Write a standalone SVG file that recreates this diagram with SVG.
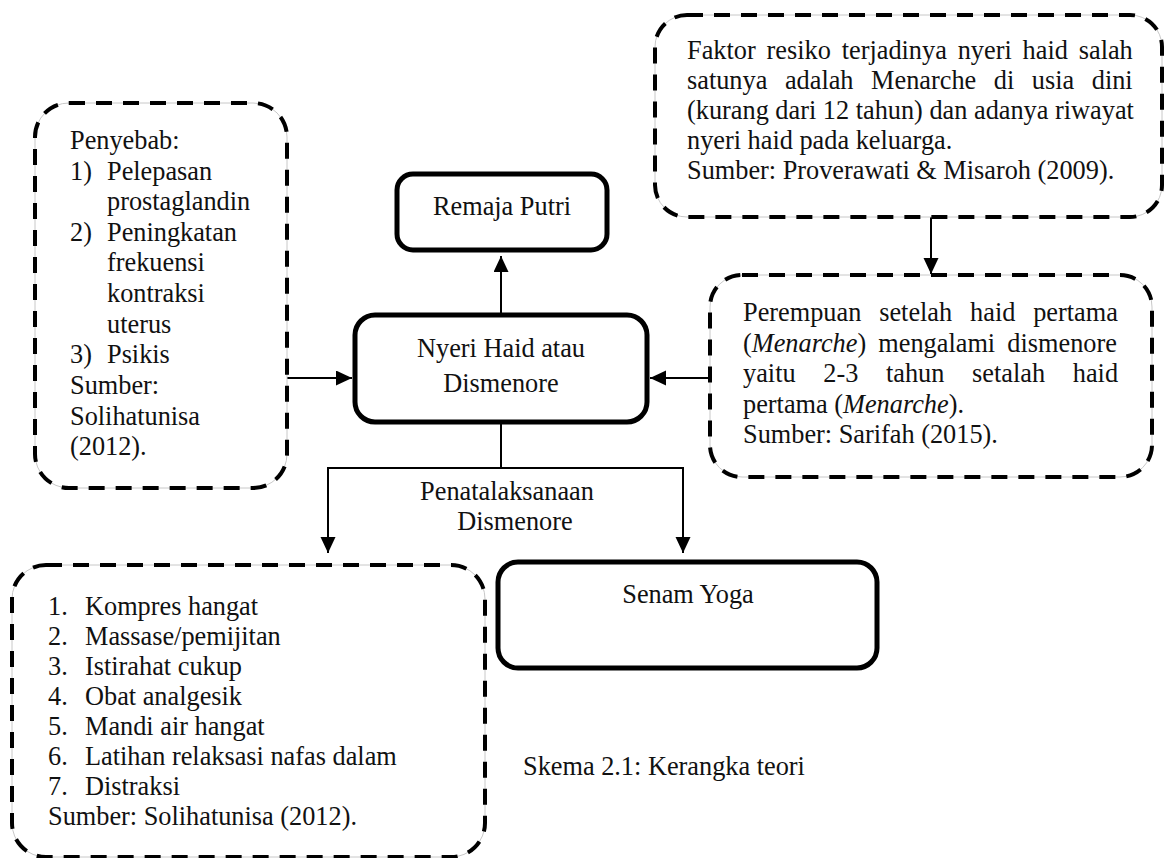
<svg xmlns="http://www.w3.org/2000/svg" width="1172" height="858" viewBox="0 0 1172 858">
  <style>
    text { font-family: "Liberation Serif", "Times New Roman", serif; font-size: 26.3px; fill: #111; }
    .mid { text-anchor: middle; }
    .dash { fill: none; stroke: #000; stroke-width: 4; stroke-dasharray: 16 11; }
    .ghost { fill: none; stroke: #c8c8c8; stroke-width: 1; }
    .solid { fill: #fff; stroke: #000; stroke-width: 5; }
    .conn { fill: none; stroke: #000; stroke-width: 2; }
    .it { font-style: italic; }
  </style>
  <defs>
    <marker id="arr" markerUnits="userSpaceOnUse" markerWidth="16" markerHeight="16" refX="16" refY="7.5" orient="auto">
      <path d="M0,0 L16,7.5 L0,15 Z" fill="#000"/>
    </marker>
  </defs>
  <rect width="1172" height="858" fill="#fff"/>

  <g id="connectors">
    <line class="conn" x1="501" y1="315" x2="501" y2="256" marker-end="url(#arr)"/>
    <line class="conn" x1="287" y1="378" x2="352" y2="378" marker-end="url(#arr)"/>
    <line class="conn" x1="710" y1="378" x2="650" y2="378" marker-end="url(#arr)"/>
    <line class="conn" x1="931" y1="217" x2="931" y2="274" marker-end="url(#arr)"/>
    <line class="conn" x1="501" y1="422" x2="501" y2="468"/>
    <line class="conn" x1="327" y1="468" x2="684" y2="468"/>
    <line class="conn" x1="328" y1="468" x2="328" y2="553" marker-end="url(#arr)"/>
    <line class="conn" x1="683" y1="468" x2="683" y2="553" marker-end="url(#arr)"/>
    <text class="mid" x="507" y="500">Penatalaksanaan</text>
    <text class="mid" x="515" y="530">Dismenore</text>
  </g>

  <g id="penyebab">
    <rect class="ghost" x="35" y="103" width="252" height="385" rx="34"/>
    <rect class="dash" x="35" y="103" width="252" height="385" rx="34"/>
    <text x="70" y="149">Penyebab:</text>
    <text x="70" y="180">1)</text><text x="107" y="180">Pelepasan</text>
    <text x="107" y="210">prostaglandin</text>
    <text x="70" y="241">2)</text><text x="107" y="241">Peningkatan</text>
    <text x="107" y="271">frekuensi</text>
    <text x="107" y="302">kontraksi</text>
    <text x="107" y="333">uterus</text>
    <text x="70" y="363">3)</text><text x="107" y="363">Psikis</text>
    <text x="70" y="394">Sumber:</text>
    <text x="70" y="425">Solihatunisa</text>
    <text x="70" y="455">(2012).</text>
  </g>

  <g id="remaja-putri">
    <rect class="solid" x="397" y="174" width="210" height="76" rx="16"/>
    <text class="mid" x="502" y="215">Remaja Putri</text>
  </g>

  <g id="nyeri-haid">
    <rect class="solid" x="355" y="315" width="292" height="107" rx="20"/>
    <text class="mid" x="501" y="357">Nyeri Haid atau</text>
    <text class="mid" x="501" y="392">Dismenore</text>
  </g>

  <g id="faktor-resiko">
    <rect class="ghost" x="655" y="15" width="507" height="202" rx="32"/>
    <rect class="dash" x="655" y="15" width="507" height="202" rx="32"/>
    <text x="687" y="59" word-spacing="4.3">Faktor resiko terjadinya nyeri haid salah</text>
    <text x="687" y="89" word-spacing="11">satunya adalah Menarche di usia dini</text>
    <text x="687" y="119">(kurang dari 12 tahun) dan adanya riwayat</text>
    <text x="687" y="149">nyeri haid pada keluarga.</text>
    <text x="687" y="179">Sumber: Proverawati &amp; Misaroh (2009).</text>
  </g>

  <g id="perempuan">
    <rect class="ghost" x="710" y="275" width="442" height="202" rx="32"/>
    <rect class="dash" x="710" y="275" width="442" height="202" rx="32"/>
    <text x="743" y="321" word-spacing="11.3">Perempuan setelah haid pertama</text>
    <text x="743" y="352" word-spacing="5.6">(<tspan class="it">Menarche</tspan>) mengalami dismenore</text>
    <text x="743" y="382" word-spacing="21.1">yaitu 2-3 tahun setalah haid</text>
    <text x="743" y="413">pertama (<tspan class="it">Menarche</tspan>).</text>
    <text x="743" y="443">Sumber: Sarifah (2015).</text>
  </g>

  <g id="penatalaksanaan-list">
    <rect class="ghost" x="12" y="565" width="473" height="292" rx="34"/>
    <rect class="dash" x="12" y="565" width="473" height="292" rx="34"/>
    <text x="48" y="615">1.</text><text x="85" y="615">Kompres hangat</text>
    <text x="48" y="645">2.</text><text x="85" y="645">Massase/pemijitan</text>
    <text x="48" y="675">3.</text><text x="85" y="675">Istirahat cukup</text>
    <text x="48" y="705">4.</text><text x="85" y="705">Obat analgesik</text>
    <text x="48" y="735">5.</text><text x="85" y="735">Mandi air hangat</text>
    <text x="48" y="765">6.</text><text x="85" y="765">Latihan relaksasi nafas dalam</text>
    <text x="48" y="795">7.</text><text x="85" y="795">Distraksi</text>
    <text x="48" y="825">Sumber: Solihatunisa (2012).</text>
  </g>

  <g id="senam-yoga">
    <rect class="solid" x="498" y="562" width="379" height="106" rx="20"/>
    <text class="mid" x="688" y="603">Senam Yoga</text>
  </g>

  <g id="caption">
    <text x="523" y="775">Skema 2.1: Kerangka teori</text>
  </g>
</svg>
